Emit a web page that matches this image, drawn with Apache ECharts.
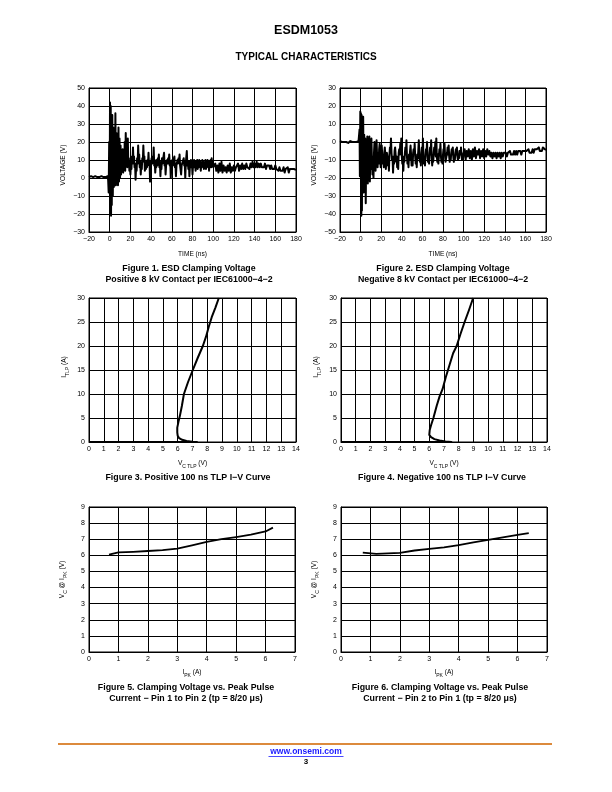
<!DOCTYPE html>
<html>
<head>
<meta charset="utf-8">
<style>html,body{margin:0;padding:0;background:#fff;}#c{width:612px;height:792px;}</style>
<script src="https://cdn.jsdelivr.net/npm/echarts@6/dist/echarts.min.js"></script>
</head>
<body>
<div id="c"></div>
<script>
// ---------- DATA ----------
// Figure 1: positive ESD clamping waveform [time ns, voltage V]
const fig1Wave = [
[-20,0.5],[-19,0],[-18,1],[-17,0],[-16,0.5],[-15,0],[-14,1],[-13,0],[-12,0.5],[-11,-0.5],[-10,0.5],[-9,0],[-8,1],[-7,0],[-6,0.5],[-5,0],[-4,0.5],[-3,0],[-2,1],[-1.5,-1],
[-1,-8],[-0.5,20],[0,-5],[0.3,42],[0.7,-20],[1,40],[1.3,-21],[1.7,30],[2,-15],[2.5,35],[3,-10],[3.5,28],[4,-5],[4.5,20],[5,-4],[5.5,36],[6,-4],[6.5,25],[7,-3],[7.5,20],[8,-4],[8.5,28],[9,-2],[9.5,22],
[10,0],[10.5,18],[11,2],[11.5,12],[12,5],[12.5,16],[13,3],[13.5,9],[14,6],[14.5,20],[15,4],[15.5,25],[16,8],[16.5,14],[17,6],[17.5,22],[18,7],[18.5,11],[19,4],[19.5,8],
[20,2],[20.5,9],[21,5],[21.5,12],[22,8],[22.5,17],[23,9],[23.5,12],[24,6],[24.5,8],[25,-1],[25.5,6],[26,4],[26.5,11],[27,8],[27.5,18],[28,10],[28.5,13],[29,6],[29.5,9],
[30,2],[30.5,7],[31,5],[31.5,11],[32,9],[32.5,18],[33,10],[33.5,12],[34,4],[34.5,8],[35,5],[35.5,9],[36,6],[36.5,10],[37,8],[37.5,14],[38,7],[38.5,9],[39,-2],[39.5,6],
[40,5],[40.5,11],[41,8],[41.5,12],[42,9],[42.5,17],[43,7],[43.5,10],[44,3],[44.5,8],[45,6],[45.5,10],[46,7],[46.5,11],[47,8],[47.5,13],[48,6],[48.5,9],[49,1],[49.5,7],
[50,5],[50.5,11],[51,8],[51.5,10],[52,9],[52.5,14],[53,7],[53.5,9],[54,2],[54.5,7],[55,6],[55.5,10],[56,8],[56.5,11],[57,8],[57.5,13],[58,7],[58.5,9],[59,0],[59.5,6],
[60,5],[60.5,10],[61,7],[61.5,11],[62,9],[62.5,12],[63,6],[63.5,8],[64,1],[64.5,7],[65,6],[65.5,10],[66,8],[66.5,11],[67,9],[67.5,13],[68,7],[68.5,8],[69,2],[69.5,7],
[70,6],[70.5,9],[71,8],[71.5,11],[72,7],[72.5,9],[73,0],[73.5,8],[74,9],[74.5,15],[75,7],[75.5,9],[76,5],[76.5,9],[77,1],[77.5,7],[78,8],[78.5,10],[79,6],[79.5,8],
[80,2],[80.5,7],[81,8],[81.5,10],[82,6],[82.5,9],[83,4],[83.5,8],[84,7],[84.5,10],[85,5],[85.5,8],[86,6],[86.5,10],[87,7],[87.5,9],[88,4],[88.5,8],[89,6],[89.5,10],
[90,7],[90.5,9],[91,5],[91.5,8],[92,6],[92.5,10],[93,5],[93.5,8],[94,7],[94.5,10],[95,6],[95.5,9],[96,4],[96.5,8],[97,7],[97.5,10],[98,6],[98.5,11],[99,7],[99.5,9],
[100,6],[101,5],[102,8],[103,4],[104,7],[105,3],[106,8],[107,4],[108,9],[109,3],[110,7],[111,4],[112,6],[113,3],[114,7],[115,4],[116,8],[117,3],[118,6],[119,4],
[120,7],[121,4],[122,6],[123,5],[124,8],[125,4],[126,7],[127,5],[128,8],[129,5],[130,7],[131,5],[132,8],[133,6],[134,7],[135,5],[136,8],[137,6],[138,9],[139,6],
[140,8],[141,6],[142,9],[143,6],[144,8],[145,6],[146,8],[147,6],[148,7],[149,6],[150,8],[151,5],[152,7],[153,6],[154,7],[155,5],[156,7],[157,5],[158,6],[159,5],
[160,7],[161,5],[162,6],[163,4],[164,6],[165,4],[166,5],[167,4],[168,6],[169,3],[170,5],[171,4],[172,6],[173,3],[174,5],[175,4],[176,5],[177,4],[178,5],[179,4],[180,4.5]
];
// Figure 2: negative ESD clamping waveform [time ns, voltage V]
const fig2Wave = [
[-20,0.5],[-19,1],[-18,0],[-17,1],[-16,0],[-15,0.5],[-14,0],[-13,0.5],[-12,-0.5],[-11,0],[-10,0.5],[-9,0],[-8,0],[-7,0.5],[-6,0],[-5,0.5],[-4,0],[-3,0],[-2,0.5],[-1.5,1],
[-1,7],[-0.7,-19],[-0.3,17],[0,5],[0.3,16],[0.7,-41],[1,15],[1.3,-38],[1.7,13],[2,-20],[2.5,14],[3,-28],[3.5,4],[4,-22],[4.5,2],[5,-34],[5.5,0],[6,-15],[6.5,3],[7,-23],[7.5,1],[8,-18],[8.5,3],[9,-22],[9.5,-2],
[10,-15],[10.5,2],[11,-10],[11.5,-18],[12,-8],[12.5,-20],[13,-6],[13.5,0],[14,-9],[14.5,-16],[15,-7],[15.5,1],[16,-8],[16.5,-14],[17,-6],[17.5,-12],[18,-4],[18.5,-1],[19,-8],[19.5,-14],
[20,-6],[20.5,-2],[21,-7],[21.5,-12],[22,-9],[22.5,-14],[23,-6],[23.5,-3],[24,-8],[24.5,-15],[25,-10],[25.5,-6],[26,-8],[26.5,-13],[27,-10],[27.5,-16],[28,-7],[28.5,-3],[29,-5],[29.5,2],
[30,-6],[30.5,-10],[31,-8],[31.5,-17],[32,-9],[32.5,-12],[33,-5],[33.5,-3],[34,-7],[34.5,-11],[35,-8],[35.5,-14],[36,-9],[36.5,-15],[37,-6],[37.5,-4],[38,-7],[38.5,-1],[39,-6],[39.5,2],
[40,-8],[40.5,-12],[41,-9],[41.5,-16],[42,-8],[42.5,-11],[43,-6],[43.5,-3],[44,-7],[44.5,1],[45,-8],[45.5,-12],[46,-9],[46.5,-14],[47,-7],[47.5,-10],[48,-5],[48.5,-2],[49,-7],[49.5,-13],
[50,-9],[50.5,-13],[51,-6],[51.5,-4],[52,-7],[52.5,-1],[53,-8],[53.5,-12],[54,-9],[54.5,-14],[55,-7],[55.5,-9],[56,-5],[56.5,1],[57,-7],[57.5,-11],[58,-8],[58.5,-13],[59,-6],[59.5,-3],
[60,-6],[60.5,2],[61,-8],[61.5,-12],[62,-9],[62.5,-13],[63,-7],[63.5,-4],[64,-6],[64.5,0],[65,-8],[65.5,-11],[66,-9],[66.5,-12],[67,-6],[67.5,-3],[68,-7],[68.5,1],[69,-8],[69.5,-13],
[70,-9],[70.5,-11],[71,-6],[71.5,-3],[72,-7],[72.5,0],[73,-8],[73.5,2],[74,-8],[74.5,-11],[75,-7],[75.5,-12],[76,-8],[76.5,-4],[77,-6],[77.5,-1],[78,-8],[78.5,-11],[79,-9],[79.5,-12],
[80,-7],[80.5,-4],[81,-6],[81.5,-1],[82,-8],[82.5,-11],[83,-9],[83.5,-10],[84,-6],[84.5,-3],[85,-7],[85.5,-2],[86,-8],[86.5,-11],[87,-8],[87.5,-10],[88,-6],[88.5,-4],[89,-7],[89.5,-3],
[90,-8],[90.5,-11],[91,-8],[91.5,-10],[92,-6],[92.5,-4],[93,-7],[93.5,-3],[94,-8],[94.5,-10],[95,-7],[95.5,-9],[96,-5],[96.5,-4],[97,-7],[97.5,-3],[98,-8],[98.5,-10],[99,-7],[99.5,-9],
[100,-6],[101,-4],[102,-10],[103,-5],[104,-8],[105,-4],[106,-9],[107,-5],[108,-10],[109,-4],[110,-8],[111,-3],[112,-9],[113,-5],[114,-7],[115,-4],[116,-9],[117,-5],[118,-8],[119,-4],
[120,-9],[121,-5],[122,-8],[123,-4],[124,-7],[125,-5],[126,-8],[127,-6],[128,-9],[129,-6],[130,-8],[131,-6],[132,-9],[133,-6],[134,-8],[135,-6],[136,-9],[137,-6],[138,-8],[139,-6],
[140,-7],[141,-6],[142,-8],[143,-6],[144,-7],[145,-5],[146,-7],[147,-6],[148,-7],[149,-5],[150,-7],[151,-5],[152,-7],[153,-5],[154,-6],[155,-5],[156,-7],[157,-5],[158,-6],[159,-5],
[160,-6],[161,-5],[162,-6],[163,-4],[164,-6],[165,-5],[166,-6],[167,-4],[168,-6],[169,-4],[170,-5],[171,-4],[172,-5],[173,-3],[174,-5],[175,-4],[176,-5],[177,-3],[178,-4],[179,-4],[180,-4.5]
];
// Figure 3: positive TLP I-V [V, A]
const fig3TLP = [[0,0],[7.3,0],[7.0,0.05],[6.6,0.2],[6.3,0.45],[6.1,0.8],[6.0,1.3],[5.97,2.0],[5.97,3.0],[6.05,4.2],[6.15,5.5],[6.28,7.5],[6.42,10],[6.7,12.5],[7.02,15],[7.35,17.5],[7.7,20],[7.92,22],[8.1,24],[8.3,26],[8.55,28],[8.78,30]];
// Figure 4: negative TLP I-V [V, A]
const fig4TLP = [[0,0],[7.5,0],[7.1,0.1],[6.7,0.3],[6.35,0.6],[6.12,1.0],[6.0,1.5],[6.03,2.5],[6.12,3.5],[6.28,5],[6.5,7.5],[6.7,9.5],[6.9,11],[7.12,13.5],[7.37,16],[7.62,18.5],[7.86,20],[8.12,22.5],[8.4,25],[8.7,27.5],[8.98,30]];
// Figure 5: clamping voltage vs peak pulse current, pin 1 to pin 2 [A, V]
const fig5Clamp = [[0.68,6.05],[1.0,6.18],[1.5,6.22],[2.0,6.27],[2.5,6.32],[3.0,6.42],[3.5,6.62],[4.0,6.84],[4.5,7.0],[5.0,7.13],[5.5,7.28],[6.0,7.48],[6.25,7.72]];
// Figure 6: clamping voltage vs peak pulse current, pin 2 to pin 1 [A, V]
const fig6Clamp = [[0.74,6.17],[1.2,6.09],[1.6,6.12],[2.0,6.15],[2.5,6.3],[3.0,6.4],[3.5,6.5],[4.0,6.63],[4.5,6.8],[5.0,6.96],[5.5,7.12],[6.0,7.27],[6.38,7.38]];

// Axis ranges / tick intervals
const fig12XTicks = {min:-20, max:180, interval:20};
const fig1YTicks = {min:-30, max:50, interval:10};
const fig2YTicks = {min:-50, max:30, interval:10};
const tlpXTicks = {min:0, max:14, interval:1};
const tlpYTicks = {min:0, max:30, interval:5};
const clampXTicks = {min:0, max:7, interval:1};
const clampYTicks = {min:0, max:9, interval:1};

// Texts
const pageTitle = 'ESDM1053';
const pageSubtitle = 'TYPICAL CHARACTERISTICS';
const captions = [
  ['Figure 1. ESD Clamping Voltage', 'Positive 8 kV Contact per IEC61000\u22124\u22122'],
  ['Figure 2. ESD Clamping Voltage', 'Negative 8 kV Contact per IEC61000\u22124\u22122'],
  ['Figure 3. Positive 100 ns TLP I\u2212V Curve'],
  ['Figure 4. Negative 100 ns TLP I\u2212V Curve'],
  ['Figure 5. Clamping Voltage vs. Peak Pulse', 'Current \u2212 Pin 1 to Pin 2 (tp = 8/20 \u03bcs)'],
  ['Figure 6. Clamping Voltage vs. Peak Pulse', 'Current \u2212 Pin 2 to Pin 1 (tp = 8/20 \u03bcs)']
];
const footerUrl = 'www.onsemi.com';
const pageNumber = '3';

// ---------- CHART ----------
const FONT = '"Liberation Sans", Arial, Helvetica, sans-serif';
const fmt = v => String(v).replace('-', '\u2212');
const rich = {
  m: {fontSize: 6.6, fontFamily: FONT, color: '#000', lineHeight: 11, verticalAlign: 'middle'},
  s: {fontSize: 5, fontFamily: FONT, color: '#000', lineHeight: 5, verticalAlign: 'bottom'}
};

const grids = [
  {left: 89, top: 88, width: 207, height: 144},
  {left: 340, top: 88, width: 206, height: 144},
  {left: 89, top: 298, width: 207, height: 144},
  {left: 341, top: 298, width: 206, height: 144},
  {left: 89, top: 507, width: 206, height: 145},
  {left: 341, top: 507, width: 206, height: 145}
].map(g => Object.assign({show: true, borderColor: '#000', borderWidth: 1, containLabel: false}, g));

function axis(ticks, gi, name, nameGap, pad) {
  return Object.assign({
    type: 'value', gridIndex: gi,
    name: name, nameLocation: 'middle', nameGap: nameGap,
    nameTextStyle: {color: '#000', fontSize: 6.6, fontFamily: FONT, rich: rich, padding: pad || 0},
    axisLine: {show: true, onZero: false, lineStyle: {color: '#000', width: 1}},
    axisTick: {show: false},
    splitLine: {show: true, lineStyle: {color: '#000', width: 1}},
    axisLabel: {color: '#000', fontSize: 7, fontFamily: FONT, margin: 4, formatter: fmt, showMinLabel: true, showMaxLabel: true}
  }, ticks);
}

const xAxes = [
  axis(fig12XTicks, 0, '{m|TIME (ns)}', 17),
  axis(fig12XTicks, 1, '{m|TIME (ns)}', 17),
  axis(tlpXTicks, 2, '{m|V}{s|C TLP}{m| (V)}', 16),
  axis(tlpXTicks, 3, '{m|V}{s|C TLP}{m| (V)}', 16),
  axis(clampXTicks, 4, '{m|I}{s|PK}{m| (A)}', 15),
  axis(clampXTicks, 5, '{m|I}{s|PK}{m| (A)}', 15)
];
const yAxes = [
  axis(fig1YTicks, 0, '{m|VOLTAGE (V)}', 20, [0, 10, 0, 0]),
  axis(fig2YTicks, 1, '{m|VOLTAGE (V)}', 20, [0, 10, 0, 0]),
  axis(tlpYTicks, 2, '{m|I}{s|TLP}{m| (A)}', 19, [0, 0, 0, 6]),
  axis(tlpYTicks, 3, '{m|I}{s|TLP}{m| (A)}', 19, [0, 0, 0, 6]),
  axis(clampYTicks, 4, '{m|V}{s|C}{m| @ I}{s|PK}{m| (V)}', 21),
  axis(clampYTicks, 5, '{m|V}{s|C}{m| @ I}{s|PK}{m| (V)}', 21)
];

function line(data, i, w) {
  return {type: 'line', xAxisIndex: i, yAxisIndex: i, data: data, showSymbol: false, symbol: 'none',
    lineStyle: {color: '#000', width: w, join: 'round'}, clip: false, animation: false, silent: true};
}
const series = [
  line(fig1Wave, 0, 2), line(fig2Wave, 1, 2),
  line(fig3TLP, 2, 2), line(fig4TLP, 3, 2),
  line(fig5Clamp, 4, 1.8), line(fig6Clamp, 5, 1.8)
];

function txt(s, x, y, size, weight, color) {
  return {type: 'text', silent: true, style: {text: s, x: x, y: y, fill: color || '#000',
    font: (weight || 'bold') + ' ' + size + 'px ' + FONT,
    textAlign: 'center', textVerticalAlign: 'middle', align: 'center', verticalAlign: 'middle'}};
}
const capPos = [[189, 269], [443, 269], [188, 478], [442, 478], [186, 688], [440, 688]];
const graphics = [
  txt(pageTitle, 306, 31, 12.5),
  txt(pageSubtitle, 306, 57, 10)
];
captions.forEach((c, i) => {
  c.forEach((l, j) => graphics.push(txt(l, capPos[i][0], capPos[i][1] + j * 11, 8.8)));
});
graphics.push({type: 'line', silent: true, shape: {x1: 58, y1: 744, x2: 552, y2: 744}, style: {stroke: '#DC8A3C', lineWidth: 2}});
graphics.push(txt(footerUrl, 306, 752, 8.5, 'bold', '#1a1aff'));
graphics.push({type: 'line', silent: true, shape: {x1: 268.5, y1: 756.5, x2: 343.5, y2: 756.5}, style: {stroke: '#1a1aff', lineWidth: 0.8}});
graphics.push(txt(pageNumber, 306, 762, 8));

const chart = echarts.init(document.getElementById('c'), null, {renderer: 'canvas'});
chart.setOption({
  animation: false,
  backgroundColor: '#fff',
  grid: grids,
  xAxis: xAxes,
  yAxis: yAxes,
  series: series,
  graphic: graphics
});
</script>
</body>
</html>
